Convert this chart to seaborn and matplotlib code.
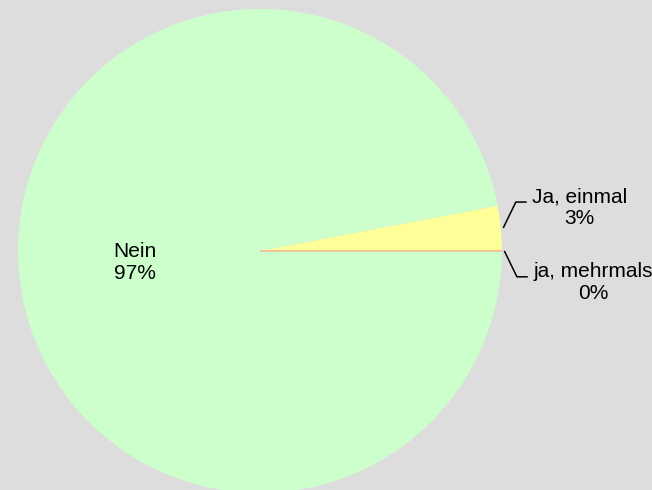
"""Pie chart: share of answers (Nein / Ja, einmal / ja, mehrmals)."""

import matplotlib

matplotlib.use("Agg")

import matplotlib.pyplot as plt
import numpy as np
import seaborn as sns

# drawn counterclockwise starting at 3 o'clock
CATEGORIES = ["ja, mehrmals", "Ja, einmal", "Nein"]
SHARES = [0, 3, 97]
COLORS = ["#ffaa88", "#ffff99", "#ccffcc"]
INSIDE_LABELS = ["Nein"]

BACKGROUND = "#dddddd"
FONT_SIZE = 15


def add_outside_label(ax, angle_deg, text, going_up):
    # leader line: short slanted segment off the rim, then a small horizontal tick
    rad = np.deg2rad(angle_deg)
    start = np.array([np.cos(rad), np.sin(rad)]) * 1.01
    dy = 0.107 if going_up else -0.107
    elbow = start + np.array([0.052, dy])
    end = elbow + np.array([0.045, 0.0])
    ax.plot([start[0], elbow[0], end[0]], [start[1], elbow[1], end[1]],
            color="black", linewidth=1.1, solid_capstyle="butt", clip_on=False)
    ax.text(end[0] + 0.022, elbow[1] + 0.062, text, ha="left", va="top",
            multialignment="center", fontsize=FONT_SIZE, color="black")


def main() -> None:
    sns.set_theme(style="white")
    plt.rcParams["font.family"] = ["Liberation Sans", "DejaVu Sans"]
    plt.rcParams["text.color"] = "black"

    fig = plt.figure(figsize=(6.52, 4.90), dpi=100, facecolor=BACKGROUND)
    ax = fig.add_axes([0, 0, 1, 1])
    ax.set_facecolor(BACKGROUND)

    wedges, _ = ax.pie(SHARES, colors=COLORS, startangle=0, counterclock=True,
                       radius=1.0, wedgeprops=dict(linewidth=0))

    total = sum(SHARES)
    for wedge, name, value in zip(wedges, CATEGORIES, SHARES):
        pct = 100 * value / total
        label = f"{name}\n{pct:.0f}%"
        mid = (wedge.theta1 + wedge.theta2) / 2
        if value == 0:
            # empty slice only shows as a thin line on top of its neighbours
            wedge.set_edgecolor(wedge.get_facecolor())
            wedge.set_linewidth(1.0)
            wedge.set_zorder(5)
        if name in INSIDE_LABELS:
            rad = np.deg2rad(mid)
            ax.text(0.52 * np.cos(rad), 0.52 * np.sin(rad), label, ha="center",
                    va="center", multialignment="center", fontsize=FONT_SIZE,
                    color="black")
        else:
            add_outside_label(ax, mid, label, going_up=value > 0)

    ax.set_xlim(-1.074, 1.620)
    ax.set_ylim(-0.988, 1.037)
    ax.set_aspect("equal")
    ax.axis("off")

    fig.savefig("out.png", dpi=100, facecolor=BACKGROUND)
    plt.close(fig)


if __name__ == "__main__":
    main()
